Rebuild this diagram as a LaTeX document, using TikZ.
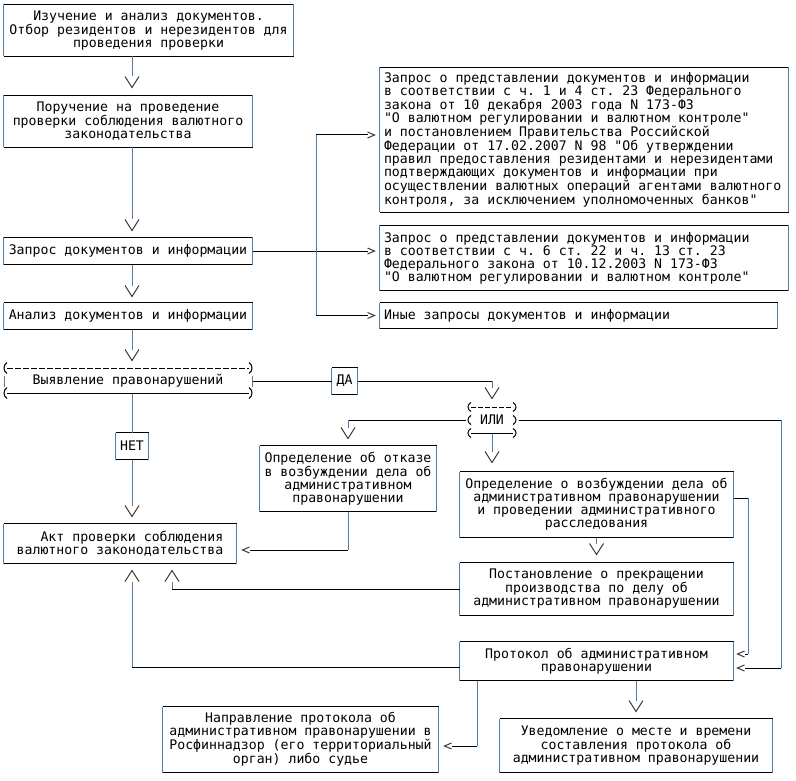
\documentclass[tikz,border=0pt]{standalone}
\usepackage{fontspec}
\setmonofont{DejaVu Sans Mono}
\usepackage{tikz}
\usetikzlibrary{arrows.meta,positioning,calc}
\definecolor{ruleblue}{RGB}{80,125,165}
\definecolor{glyphdark}{RGB}{70,55,45}

% open chevrons, the line stops at their back
\pgfdeclarearrow{
  name = vchev,
  setup code = {
    \pgfarrowssettipend{0pt}
    \pgfarrowssetlineend{-11pt}
    \pgfarrowssetbackend{-11pt}
    \pgfarrowssetvisualbackend{-11pt}
  },
  drawing code = {
    \pgfsetstrokecolor{glyphdark}
    \pgfsetdash{}{0pt}
    \pgfsetmiterjoin
    \pgfpathmoveto{\pgfqpoint{-11pt}{7pt}}
    \pgfpathlineto{\pgfpointorigin}
    \pgfpathlineto{\pgfqpoint{-11pt}{-7pt}}
    \pgfusepathqstroke
  }
}
\pgfdeclarearrow{
  name = hchev,
  setup code = {
    \pgfarrowssettipend{0pt}
    \pgfarrowssetlineend{-7pt}
    \pgfarrowssetbackend{-7pt}
    \pgfarrowssetvisualbackend{-7pt}
  },
  drawing code = {
    \pgfsetstrokecolor{glyphdark}
    \pgfsetdash{}{0pt}
    \pgfsetmiterjoin
    \pgfpathmoveto{\pgfqpoint{-7pt}{3pt}}
    \pgfpathlineto{\pgfpointorigin}
    \pgfpathlineto{\pgfqpoint{-7pt}{-3pt}}
    \pgfusepathqstroke
  }
}
\newcommand{\monotext}{\ttfamily\fontsize{13.2}{13}\selectfont\frenchspacing}
% full-width spaces inside ragged text
\newcommand{\evensp}{\spaceskip=\fontdimen2\font\relax\xspaceskip=\fontdimen2\font\relax}

\begin{document}
\begin{tikzpicture}[x=1pt,y=-1pt,line width=1pt,
    txt/.style={font=\monotext,inner sep=0pt,align=center},
    hline/.style={draw=black},
    vline/.style={draw=ruleblue},
    box/.style={txt,append after command={
        (\tikzlastnode.north west) edge[hline] (\tikzlastnode.north east)
        (\tikzlastnode.south west) edge[hline] (\tikzlastnode.south east)
        (\tikzlastnode.north west) edge[vline] (\tikzlastnode.south west)
        (\tikzlastnode.north east) edge[vline] (\tikzlastnode.south east)}},
    down/.style={vline,-vchev},
    side/.style={hline,-hchev}]
    \useasboundingbox (0,0) rectangle (796,781);

    % left column
    \node[box,minimum width=289pt,minimum height=51pt] (study) at (148.5,30.5)
        {Изучение и анализ документов.\\Отбор резидентов и нерезидентов для\\проведения проверки};
    \node[box,minimum width=248pt,minimum height=51pt] (order) at (128,121.5)
        {Поручение на проведение\\проверки соблюдения валютного\\законодательства};
    \node[box,minimum width=248pt,minimum height=26pt] (req) at (128,251) {Запрос документов и информации};
    \node[box,minimum width=248pt,minimum height=26pt] (anal) at (128,316) {Анализ документов и информации};
    \node[txt,minimum width=248pt,minimum height=25pt] (detect) at (128,381) {Выявление правонарушений};
    \node[box,minimum width=32pt,minimum height=26pt] (no) at (132,446) {НЕТ};
    \node[box,align=right,minimum width=232pt,minimum height=39pt] (act) at (120,543.5)
        {Акт проверки соблюдения\\валютного законодательства};

    % requests
    \node[box,align=left,inner xsep=4pt,text width=400pt,minimum height=144pt] (reqA) at (584,140)
        {\evensp Запрос о представлении документов и информации\\
         в соответствии с ч. 1 и 4 ст. 23 Федерального\\
         закона от 10 декабря 2003 года N 173-ФЗ\\
         "О валютном регулировании и валютном контроле"\\
         и постановлением Правительства Российской\\
         Федерации от 17.02.2007 N 98 "Об утверждении\\
         правил предоставления резидентами и нерезидентами\\
         подтверждающих документов и информации при\\
         осуществлении валютных операций агентами валютного\\
         контроля, за исключением уполномоченных банков"};
    \node[box,align=left,inner xsep=4pt,text width=400pt,minimum height=64pt] (reqB) at (584,258)
        {\evensp Запрос о представлении документов и информации\\
         в соответствии с ч. 6 ст. 22 и ч. 13 ст. 23\\
         Федерального закона от 10.12.2003 N 173-ФЗ\\
         "О валютном регулировании и валютном контроле"};
    \node[box,align=left,inner xsep=4pt,text width=389pt,minimum height=25pt] (reqC) at (578.5,315.5)
        {\evensp Иные запросы документов и информации};

    % decision branch
    \node[box,minimum width=25pt,minimum height=26pt] (yes) at (344.5,381) {ДА};
    \node[txt,minimum width=52pt,minimum height=26pt] (or) at (492,420) {ИЛИ};
    \node[box,minimum width=176pt,minimum height=65pt] (refuse) at (348,478.5)
        {Определение об отказе\\в возбуждении дела об\\административном\\правонарушении};
    \node[box,minimum width=273pt,minimum height=65pt] (open) at (596.5,504.5)
        {Определение о возбуждении дела об\\административном правонарушении\\и проведении административного\\расследования};
    \node[box,minimum width=273pt,minimum height=52pt] (stop) at (596.5,589)
        {Постановление о прекращении\\производства по делу об\\административном правонарушении};
    \node[box,minimum width=273pt,minimum height=38pt] (proto) at (596.5,661)
        {Протокол об административном\\правонарушении};
    \node[box,minimum width=275pt,minimum height=65pt] (send) at (300.5,739.5)
        {Направление протокола об\\административном правонарушении в\\Росфиннадзор (его территориальный\\орган) либо судье};
    \node[box,minimum width=272pt,minimum height=53pt] (notice) at (636,745.5)
        {Уведомление о месте и времени\\составления протокола об\\административном правонарушении};

    % bracket frames
    \draw[hline,dash pattern=on 6pt off 2pt] (7,368) -- (249,368);
    \draw[hline] (7,393) -- (249,393);
    \draw[vline] (4,376) -- (4,387);
    \draw[vline] (252,376) -- (252,387);
    \foreach \y in {368,393} {
        \draw (7,\y-5.5) .. controls (3,\y-3) and (3,\y+3) .. (7,\y+5.5);
        \draw (249,\y-5.5) .. controls (253,\y-3) and (253,\y+3) .. (249,\y+5.5);
    }
    \draw[hline,dash pattern=on 5pt off 2pt] (471,407) -- (513,407);
    \draw[hline] (471,433) -- (513,433);
    \foreach \y in {407,420,433} {
        \draw (471,\y-4.5) .. controls (467,\y-2.5) and (467,\y+2.5) .. (471,\y+4.5);
        \draw (513,\y-4.5) .. controls (517,\y-2.5) and (517,\y+2.5) .. (513,\y+4.5);
    }

    % main line
    \coordinate (spine) at (132,0);
    \draw[down,shorten >=8pt] (spine |- study.south) -- (spine |- order.north);
    \draw[down,shorten >=7pt] (spine |- order.south) -- (spine |- req.north);
    \draw[down,shorten >=6pt] (spine |- req.south) -- (spine |- anal.north);
    \draw[down,shorten >=7.5pt] (spine |- anal.south) -- (spine |- detect.north);
    \draw[vline] (no.north |- detect.south) -- (no.north);
    \draw[down,shorten >=7pt] (no.south) -- (no.south |- act.north);

    % kinds of requests
    \coordinate (forkA) at (316,135);
    \coordinate (forkC) at (316,315.5);
    \draw[side,shorten >=5pt] (req.east) -- (req.east -| reqB.west);
    \draw[vline] (forkA) -- (forkC);
    \draw[side,shorten >=5pt] (forkA) -- (forkA -| reqA.west);
    \draw[side,shorten >=5pt] (forkC) -- (reqC.west);

    % yes branch
    \draw[hline] (detect.east) -- (yes.west);
    \draw[hline] (yes.east) -- (or.north |- yes.east);
    \draw[down,shorten >=8pt] (or.north |- yes.east) -- (or.north);
    \draw[hline] (or.west) -- (refuse.north |- or.west);
    \draw[down,shorten >=7pt] (refuse.north |- or.west) -- (refuse.north);
    \draw[down,shorten >=9pt] (or.south) -- (or.south |- open.north);
    \draw[down,shorten >=8pt] (open.south) -- (stop.north);

    % back to the act
    \coordinate (refuseB) at (348,550);
    \draw[vline] (refuse.south) -- (refuseB);
    \draw[side,shorten >=6pt] (refuseB) -- (refuseB -| act.east);
    \coordinate (stopL) at (172,589);
    \draw[hline] (stop.west) -- (stopL);
    \draw[down,shorten >=7pt] (stopL) -- (stopL |- act.south);
    \coordinate (protoL) at (132,667);
    \draw[hline] (protoL -| proto.west) -- (protoL);
    \draw[down,shorten >=7pt] (protoL) -- (spine |- act.south);

    % into the protocol
    \coordinate (rimA) at (781,420);
    \coordinate (rimB) at (781,668);
    \draw[hline] (or.east) -- (rimA);
    \draw[vline] (rimA) -- (rimB);
    \draw[side,shorten >=4pt] (rimB) -- (rimB -| proto.east);
    \coordinate (rimC) at (748,498);
    \coordinate (rimD) at (748,654);
    \draw[hline] (rimC -| open.east) -- (rimC);
    \draw[vline] (rimC) -- (rimD);
    \draw[side,shorten >=4pt] (rimD) -- (rimD -| proto.east);

    % after the protocol
    \coordinate (sendR) at (477,746);
    \draw[vline] (sendR |- proto.south) -- (sendR);
    \draw[side,shorten >=6pt] (sendR) -- (sendR -| send.east);
    \draw[down,shorten >=7pt] (notice.north |- proto.south) -- (notice.north);
\end{tikzpicture}
\end{document}
